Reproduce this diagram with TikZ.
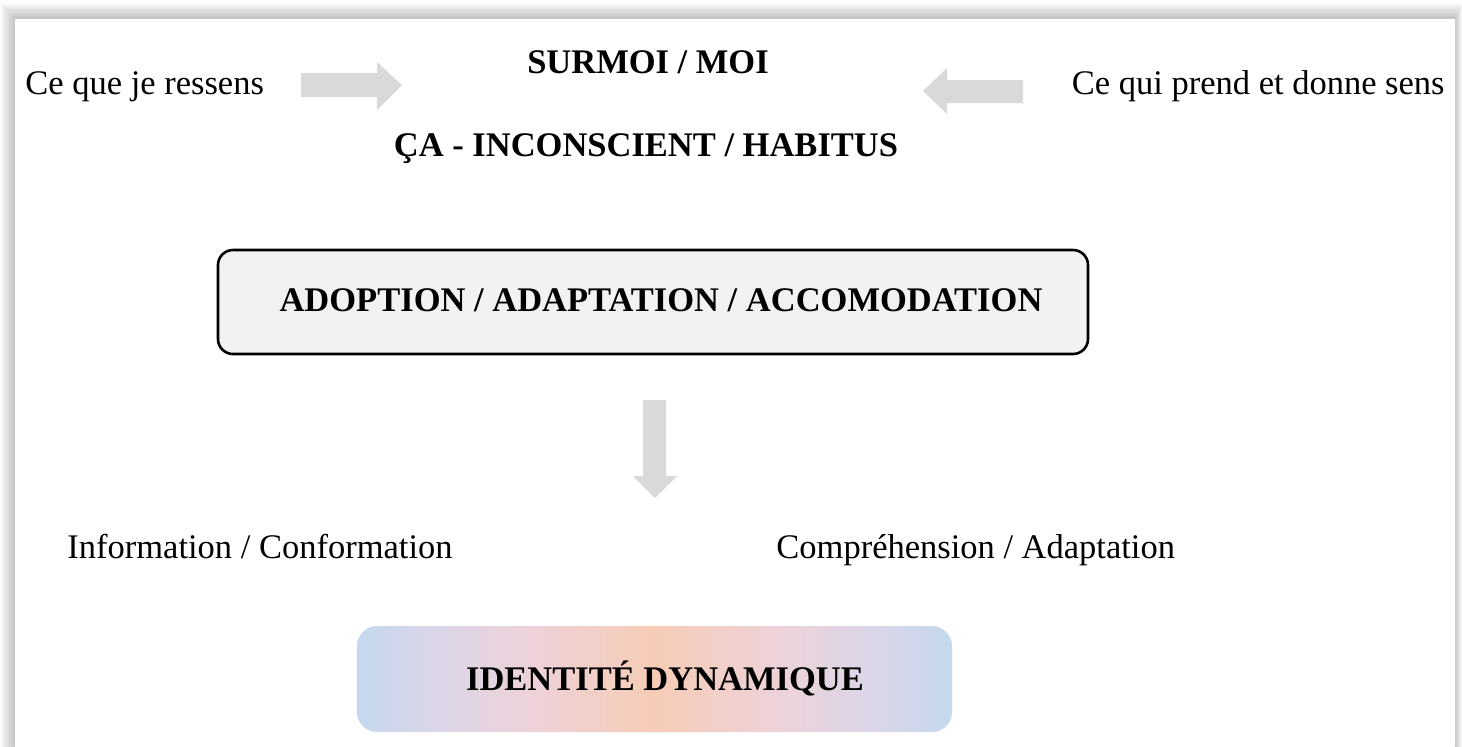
\documentclass[tikz,border=0pt]{standalone}
\usepackage{fontspec}
\setmainfont{Liberation Serif}
\definecolor{arrowgray}{RGB}{217,217,217}
\definecolor{boxgray}{RGB}{242,242,242}
\definecolor{cblue}{RGB}{196,216,237}
\definecolor{clav}{RGB}{220,214,232}
\definecolor{cpink}{RGB}{238,210,216}
\definecolor{cpeach}{RGB}{246,204,182}
\pgfdeclarehorizontalshading{idshade}{100bp}{color(0bp)=(cblue); color(25bp)=(cblue); color(32bp)=(clav); color(40bp)=(cpink); color(50bp)=(cpeach); color(60bp)=(cpink); color(68bp)=(clav); color(75bp)=(cblue); color(100bp)=(cblue)}
\begin{document}
\begin{tikzpicture}[x=0.5pt,y=-0.5pt,
  txt/.style={inner sep=0pt, font=\fontsize{17.25pt}{20pt}\selectfont},
  btxt/.style={inner sep=0pt, font=\fontsize{17.25pt}{20pt}\selectfont\bfseries},
  blockarrow/.style={fill=arrowgray, draw=none}]
\useasboundingbox (0,0) rectangle (1462,746);
\fill[white] (0,0) rectangle (1462,746);
\foreach \k in {1,...,10} {
  \fill[black, opacity=0.022] (15-\k*1.4,19-\k*1.6) rectangle (1455+\k*0.7,760);
}
\fill[white] (15,19) rectangle (1455,760);
\draw[black!20, line width=0.5pt] (1455,19) -- (1455,746);

% top texts
\node[txt, anchor=base west] (ressens) at (25,94) {Ce que je ressens};
\node[txt, anchor=base east] (sens) at (1445,94) {Ce qui prend et donne sens};
\node[btxt, anchor=base] (surmoi) at (648,73) {SURMOI / MOI};
\node[btxt, anchor=base] (ca) at (646,156) {ÇA - INCONSCIENT / HABITUS};

% block arrows
\fill[blockarrow] (301,73) -- (377,73) -- (377,62) -- (402,85) -- (377,110) -- (377,97) -- (301,97) -- cycle;
\fill[blockarrow] (1023,80) -- (947,80) -- (947,68) -- (923,91) -- (947,114) -- (947,103) -- (1023,103) -- cycle;
\fill[blockarrow] (643,400) -- (666,400) -- (666,476) -- (677,476) -- (655,498) -- (633,476) -- (643,476) -- cycle;

% main box
\node[draw, line width=1.3pt, fill=boxgray, rounded corners=7.5pt, minimum width=435pt, minimum height=52pt, inner sep=0pt] (adoptbox) at (653,302) {};
\node[btxt, anchor=base] (adopt) at (661,311) {ADOPTION / ADAPTATION / ACCOMODATION};

% lower texts
\node[txt, anchor=base west] (info) at (67,558) {Information / Conformation};
\node[txt, anchor=base west] (compr) at (776,558) {Compréhension / Adaptation};

% gradient box
\node[shading=idshade, shading angle=0, rounded corners=10pt, minimum width=297.5pt, minimum height=53pt, inner sep=0pt] (idbox) at (654.5,679) {};
\node[btxt, anchor=base] (ident) at (665,690) {IDENTITÉ DYNAMIQUE};
\end{tikzpicture}
\end{document}
